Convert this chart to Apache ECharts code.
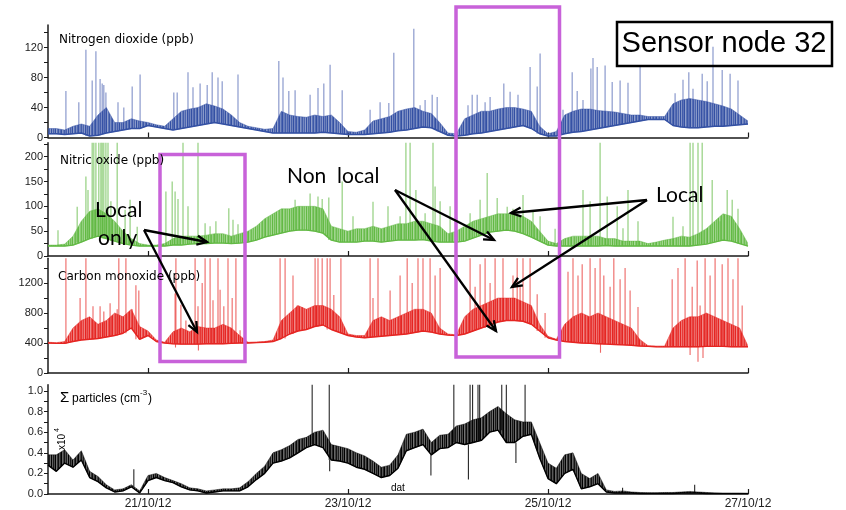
<!DOCTYPE html>
<html><head><meta charset="utf-8">
<script src="https://cdn.jsdelivr.net/npm/echarts@6/dist/echarts.min.js"></script>
<style>html,body{margin:0;padding:0;background:#fff}#c{width:846px;height:510px}</style>
</head><body><div id="c"></div>
<script>
// ---- time sampling (hours from 20/10/12 00:00) ----
const STEP_H = 2;
const dateTickHours = [24, 72, 120, 168];
const dateTickLabels = ['21/10/12', '23/10/12', '25/10/12', '27/10/12'];

// ---- tick labels ----
const no2Labels = [0, 40, 80, 120];
const no2Ticks = [0, 20, 40, 60, 80, 100, 120, 140];
const noLabels = [0, 50, 100, 150, 200];
const noTicks = [0, 25, 50, 75, 100, 125, 150, 175, 200, 225];
const coLabels = [0, 400, 800, 1200];
const coTicks = [0, 200, 400, 600, 800, 1000, 1200, 1400];
const ptLabels = [0, 0.2, 0.4, 0.6, 0.8, 1.0];
const ptTicks = [0, 0.1, 0.2, 0.3, 0.4, 0.5, 0.6, 0.7, 0.8, 0.9, 1.0];

// ---- Nitrogen dioxide (ppb): lower / upper edge of noise band every 2 h ----
const no2Low = [5,5,4,5,6,2,3,6,8,10,12,12, 16,14,12,10,12,14,16,18,20,18,16,14, 12,10,8,6,6,6,6,6,6,7,6,5,
  4,4,4,5,6,7,9,10,12,14,13,8, 3,2,3,5,6,8,10,12,14,16,12,5, 2,2,5,7,8,10,12,14,16,18,20,22,
  24,24,24,16,14,13,13,14,15,15,16,17,18];
const no2High = [12,12,10,15,18,15,30,40,20,20,25,22, 20,17,15,25,35,38,40,45,42,38,30,20, 15,13,11,12,35,30,28,27,30,28,30,20,
  8,7,10,22,25,28,35,38,40,35,32,20, 6,5,25,30,35,35,38,40,40,38,35,15, 5,8,30,35,38,38,36,35,34,32,30,30,
  28,28,28,45,50,52,50,48,45,42,38,30,22];
const no2Spikes = [[4.3,62],[7.4,47],[9.1,117],[10.6,76],[11.5,115],[12.5,78],[13,72],[13.4,70],[13.9,60],[16.8,47],[18.2,40],[20.2,68],[22.1,84],
  [30.2,60],[31,60],[33.6,87],[34.8,67],[36.5,72],[38.2,70],[39.4,87],[40.8,80],[41.8,75],[45.6,84],
  [55.4,102],[56.4,80],[57.8,62],[59.3,63],[62.9,57],[64.8,66],[66.2,72],[67.7,97],[70.6,63],
  [77.3,37],[79.7,47],[81.8,46],[83,113],[87.8,145],[89.3,43],[90.5,50],[92.2,57],[93.4,54],
  [100.8,43],[101.8,57],[103,57],[104.9,47],[106.1,54],[109.4,72],[110.9,61],[112.8,57],[115.7,94],[117.4,68],[118.1,112],
  [123.6,37],[125.8,87],[127,62],[128.4,50],[130.3,92],[130.8,106],[131.8,94],[133.7,96],[135.4,74],[137.3,76],[139.2,73],[142.1,94],
  [150.5,59],[152.4,77],[153.8,87],[154.8,65],[157,85],[158.2,75],[159.6,121],[161.8,90],[163.7,85],[165.6,76]];

// ---- Nitric oxide (ppb) ----
const noLow = [20,20,20,22,28,35,40,35,30,25,22,20, 20,20,20,22,22,24,25,25,26,26,25,26, 28,32,38,42,46,50,52,52,50,46,32,28,
  28,28,30,30,28,30,32,32,32,33,30,28, 28,28,30,36,42,48,50,52,50,45,38,30, 22,20,20,20,20,20,20,21,20,20,20,20,
  20,20,20,20,20,20,22,24,28,32,30,25,20];
const noHigh = [22,22,24,40,70,90,95,85,70,50,35,25, 22,22,25,35,40,40,40,42,45,45,40,45, 50,60,75,85,95,95,100,100,100,95,60,55,
  50,55,55,60,55,60,65,65,70,70,65,60, 45,50,60,70,75,80,85,85,85,80,70,50, 30,25,35,40,40,40,40,35,35,30,30,30,
  25,28,32,35,40,38,45,55,70,85,80,55,25];
const noSpikes = [[2.4,52],[7,99],[9.1,160],[9.6,133],[10.6,240],[11,240],[11.5,240],[12.2,240],[12.7,240],[13,240],[13.4,240],[13.9,240],[14.4,240],[15.1,110],[16.6,240],[18.5,93],[19.7,113],[21.4,59],
  [28.3,130],[29.8,150],[30.5,130],[31.2,115],[32.4,240],[33.6,100],[36,240],[37.7,66],[38.9,60],[40.3,70],[43.4,96],[44.4,73],[45.6,64],
  [59.3,113],[62.9,126],[64.8,120],[65.8,115],[67.4,118],[70.6,150],[73.2,80],[78,109],[81.6,100],[84.5,80],[85.9,240],[86.9,240],[88.3,133],[90.5,86],[92.4,240],[92.9,140],[94.1,110],[96.5,100],
  [101.3,86],[103.7,113],[105.4,167],[107.8,117],[110.2,99],[111.6,95],[114,123],[116.4,90],[118.1,80],[121.7,55],
  [128.4,133],[130.1,110],[132.5,240],[134.2,120],[136.6,100],[138,56],[139.2,133],[141.6,70],
  [150,79],[152.4,60],[154.1,240],[154.8,240],[156,240],[157,240],[159.4,153],[161.3,70],[163,133],[164.2,113],[165.6,95]];

// ---- Carbon monoxide (ppb) ----
const coLow = [400,395,395,420,440,450,460,480,500,530,600,450, 500,420,400,390,385,385,385,390,390,390,395,400, 400,405,410,420,460,520,560,580,620,640,580,540,
  500,480,470,480,490,500,510,520,540,560,545,520, 505,500,520,560,600,640,680,700,700,690,650,560, 470,440,420,410,400,395,390,385,380,375,370,360,
  355,350,348,350,350,350,350,355,355,355,350,350,350];
const coHigh = [410,405,420,600,700,750,650,700,800,750,850,620, 560,440,410,550,600,550,620,600,600,650,600,500, 410,415,420,440,700,800,900,850,900,900,850,750,
  520,500,500,700,750,700,750,800,850,850,800,600, 520,510,750,850,900,950,1000,1000,1000,950,900,650, 490,450,650,750,800,750,800,750,700,650,600,450,
  365,360,360,600,700,750,750,800,750,700,650,600,360];
const coSpikes = [[4.3,1600],[7.7,1000],[9.1,1600],[10.8,890],[12.5,890],[13.4,820],[14.9,930],[16.6,850],[17,1600],[18.7,1600],[20.2,850],[21.1,1170],[21.8,1100],
  [30.5,1060],[30.7,1600],[31.9,910],[33.1,700],[35.3,1600],[36,890],[37,1200],[37.7,1600],[38.9,1600],[39.6,970],[40.8,1600],[41.3,1110],[42.2,890],[43.2,1600],[44.2,1000],[45.1,1600],[46.1,570],
  [55.7,1600],[56.9,1600],[58.8,1300],[59.8,900],[61,880],[64.1,1600],[64.8,1600],[65.8,1600],[67,1600],[67.7,1600],[68.6,1040],[70.3,1600],
  [77.3,1600],[78,1000],[79.2,1600],[82.1,1100],[84.5,1300],[86.2,1600],[87.4,1200],[88.8,1600],[90,1600],[91.7,1600],[92.9,1300],[94.1,1400],
  [101.3,1600],[102.5,1150],[103.7,1450],[104.9,1600],[106.1,1200],[107.3,1600],[109.2,1600],[110.2,1000],[111.6,1300],[112.6,1600],[113.3,1150],[114,1600],[115.7,1600],[117.4,1050],[119.3,800],
  [124.8,1350],[126,1600],[127.2,1300],[128.2,1450],[130.1,1600],[131.3,1400],[132.5,1600],[133.4,1300],[134.9,1150],[135.8,1600],[137.3,1250],[138.5,1400],[139.7,1100],[141.6,880],
  [149.8,1250],[151.2,1400],[152.9,1600],[154.6,1150],[155.8,1500],[156.5,900],[157.7,1600],[158.9,1300],[160.1,1600],[161.8,1450],[163.2,1600],[164.4,1250],[165.6,1600],[166.6,900],
  [30.6,340],[36.1,300],[132.6,270],[154.1,240],[156,150],[157.2,200]];

// ---- Sum of particles (x10^4 cm-3) ----
const ptLow = [.28,.22,.30,.26,.33,.16,.12,.06,.02,.03,.07,.01, .13,.16,.13,.11,.07,.04,.03,.01,.02,.03,.03,.03,
  .07,.14,.20,.30,.32,.35,.40,.45,.48,.45,.33,.32, .30,.26,.24,.20,.16,.18,.25,.42,.45,.48,.38,.44,
  .45,.50,.48,.50,.52,.60,.62,.50,.50,.56,.58,.35, .15,.10,.20,.24,.05,.07,.10,.02,.01,.01,.01,.005,
  .005,.005,.005,.005,.01,.01,.01,.005,.005,.004,.004,.004,.004];
const ptHigh = [.38,.38,.43,.33,.42,.22,.17,.09,.04,.05,.09,.03, .18,.20,.16,.13,.10,.06,.05,.03,.04,.05,.05,.06,
  .12,.20,.27,.40,.43,.47,.53,.55,.60,.62,.48,.46, .44,.40,.37,.32,.26,.28,.38,.58,.60,.63,.50,.57,
  .58,.66,.68,.72,.74,.80,.85,.78,.72,.70,.70,.50, .30,.25,.38,.40,.20,.15,.20,.04,.025,.03,.02,.015,
  .012,.012,.015,.015,.02,.025,.02,.015,.01,.01,.01,.01,.008];
const ptSpikes = [[20.6,.24],[63.4,1.1],[67.5,1.1],[67.6,.22],[91.9,.18],[97.4,1.1],[100.9,.14],[101.3,1.1],[101.9,1.1],[103.2,1.1],[103.6,1.1],[108.9,1.1],[110,1.1],[112.3,.3],[114.5,1.1],[137.9,.06],[155.2,.09]];

// ================= chart =================
const hours = no2Low.map((_, i) => i * STEP_H);
const AX = '#1a1a1a';
const LAB_FONT = 'Liberation Sans';

const grids = [
  {left: 48, top: 25, width: 700, height: 112.5},
  {left: 48, top: 142.75, width: 700, height: 113.25},
  {left: 48, top: 258.25, width: 700, height: 114.75},
  {left: 48, top: 384.8, width: 700, height: 109.5}
];
const yMax = [150, 228, 1530, 1.06];
const yLab = [no2Labels, noLabels, coLabels, ptLabels];
const yTk = [no2Ticks, noTicks, coTicks, ptTicks];

const xAxes = grids.map((g, i) => ({
  type: 'value', gridIndex: i, min: 0, max: 168,
  axisLine: {lineStyle: {color: AX, width: 1.5}},
  axisTick: {inside: true, length: 5, lineStyle: {color: AX, width: 1.2}, customValues: dateTickHours},
  axisLabel: {show: i === 3, customValues: dateTickHours, margin: 4, fontSize: 12, fontFamily: LAB_FONT, color: '#222',
    formatter: v => dateTickLabels[dateTickHours.indexOf(v)] || ''},
  splitLine: {show: false}
}));
const yAxes = grids.map((g, i) => ({
  type: 'value', gridIndex: i, min: 0, max: yMax[i],
  axisLine: {show: true, lineStyle: {color: AX, width: 1.5}},
  axisTick: {show: true, length: 4, lineStyle: {color: AX, width: 1}, customValues: yTk[i]},
  axisLabel: {customValues: yLab[i], margin: 5, fontSize: 11, fontFamily: LAB_FONT, color: '#222',
    formatter: v => i === 3 ? v.toFixed(1) : String(v)},
  splitLine: {show: false}
}));

// dense vertical-stripe texture so the noise band reads as many overlapping traces
const STRIPE_ALPHA = [1, .62, .9, .7, 1, .55, .8, .95, .65, .85, 1, .6, .75, .92, .68, .88, .58];
function stripes(rgb) {
  const c = document.createElement('canvas');
  c.width = STRIPE_ALPHA.length; c.height = 2;
  const ctx = c.getContext('2d');
  STRIPE_ALPHA.forEach((a, i) => { ctx.fillStyle = 'rgba(' + rgb + ',' + a + ')'; ctx.fillRect(i, 0, 1, 2); });
  return {image: c, repeat: 'repeat'};
}

function band(idx, low, high, rgb) {
  const pat = stripes(rgb);
  return {
    type: 'custom', xAxisIndex: idx, yAxisIndex: idx, clip: true, silent: true, z: 2,
    data: [[0, 0]],
    renderItem: (params, api) => {
      const pts = [];
      for (let i = 0; i < low.length; i++) pts.push(api.coord([hours[i], low[i]]));
      for (let i = high.length - 1; i >= 0; i--) pts.push(api.coord([hours[i], high[i]]));
      return {type: 'polygon', shape: {points: pts}, style: {fill: pat, stroke: 'rgba(' + rgb + ',0.45)', lineWidth: 1}};
    }
  };
}
function baseLine(idx, low, color) {
  return {type: 'line', xAxisIndex: idx, yAxisIndex: idx, showSymbol: false, silent: true, z: 3,
    data: low.map((v, i) => [hours[i], v]), lineStyle: {color: color, width: 1.4}};
}
function spikes(idx, data, low, color) {
  return {
    type: 'custom', xAxisIndex: idx, yAxisIndex: idx, clip: true, silent: true, z: 4,
    data: data,
    renderItem: (params, api) => {
      const h = api.value(0), v = api.value(1);
      const k = Math.min(low.length - 1, Math.max(0, Math.round(h / STEP_H)));
      const p0 = api.coord([h, low[k]]), p1 = api.coord([h, v]);
      return {type: 'line', shape: {x1: p0[0], y1: p0[1], x2: p1[0], y2: p1[1]}, style: {stroke: color, lineWidth: 1.1}};
    }
  };
}

const BLUE = '#3350a3', BLUE_RGB = '51,80,163', BLUE_L = 'rgba(60,85,170,0.65)';
const GREEN = '#62b944', GREEN_RGB = '98,185,68', GREEN_L = 'rgba(98,185,68,0.75)';
const RED = '#e52522', RED_RGB = '229,37,34', RED_L = 'rgba(229,37,34,0.7)';
const BLACK = '#000', BLACK_RGB = '0,0,0', BLACK_L = 'rgba(0,0,0,0.85)';

const series = [
  band(0, no2Low, no2High, BLUE_RGB), baseLine(0, no2Low, BLUE), spikes(0, no2Spikes, no2Low, BLUE_L),
  band(1, noLow, noHigh, GREEN_RGB), baseLine(1, noLow, GREEN), spikes(1, noSpikes, noLow, GREEN_L),
  band(2, coLow, coHigh, RED_RGB), baseLine(2, coLow, RED), spikes(2, coSpikes, coLow, RED_L),
  band(3, ptLow, ptHigh, BLACK_RGB), baseLine(3, ptLow, BLACK), spikes(3, ptSpikes, ptLow, BLACK_L)
];

// ---- annotations (pixel placed) ----
const MAG = '#c862d9';
function txt(x, y, text, size, family, extra) {
  return Object.assign({type: 'text', x: x, y: y, z: 100,
    style: {text: text, fontSize: size, fontFamily: family, fill: '#000', verticalAlign: 'middle', align: 'left'}}, extra || {});
}
function arrow(x1, y1, x2, y2) {
  const a = Math.atan2(y2 - y1, x2 - x1), L = 11, w = 0.42;
  const p1 = [x2 - L * Math.cos(a - w), y2 - L * Math.sin(a - w)];
  const p2 = [x2 - L * Math.cos(a + w), y2 - L * Math.sin(a + w)];
  return [
    {type: 'line', z: 100, shape: {x1, y1, x2, y2}, style: {stroke: '#000', lineWidth: 2.3}},
    {type: 'polyline', z: 100, shape: {points: [p1, [x2, y2], p2]}, style: {stroke: '#000', lineWidth: 2.3, fill: null}}
  ];
}
const graphic = [
  txt(59, 40, 'Nitrogen dioxide (ppb)', 12, 'DejaVu Sans'),
  txt(60, 161, 'Nitric oxide (ppb)', 12, 'DejaVu Sans'),
  txt(58, 277, 'Carbon monoxide (ppb)', 12, 'DejaVu Sans'),
  txt(60, 398, 'Σ', 15, LAB_FONT),
  txt(72, 399, 'particles (cm', 12, LAB_FONT),
  txt(140, 393, '-3', 8, LAB_FONT),
  txt(148, 399, ')', 12, LAB_FONT),
  {type: 'text', x: 62, y: 450, rotation: Math.PI / 2, z: 100, style: {text: 'x10', fontSize: 10, fontFamily: LAB_FONT, fill: '#000', verticalAlign: 'middle', align: 'left'}},
  {type: 'text', x: 57, y: 432, rotation: Math.PI / 2, z: 100, style: {text: '4', fontSize: 7, fontFamily: LAB_FONT, fill: '#000', verticalAlign: 'middle', align: 'left'}},
  txt(391, 488, 'dat', 10, LAB_FONT),
  {type: 'rect', z: 100, shape: {x: 617, y: 22, width: 215, height: 44}, style: {fill: null, stroke: '#000', lineWidth: 2.5}},
  {type: 'text', x: 724, y: 44, z: 100, style: {text: 'Sensor node 32', fontSize: 29, fontFamily: LAB_FONT, fill: '#000', verticalAlign: 'middle', align: 'center'}},
  {type: 'rect', z: 99, shape: {x: 160, y: 154.5, width: 85, height: 207}, style: {fill: null, stroke: MAG, lineWidth: 3.5}},
  {type: 'rect', z: 99, shape: {x: 456, y: 7, width: 103.5, height: 350}, style: {fill: null, stroke: MAG, lineWidth: 3.5}},
  txt(95, 210, 'Local', 21, 'Lato'),
  txt(98, 238, 'only', 21, 'Lato'),
  txt(287, 176, 'Non  local', 21, 'Lato'),
  txt(656, 195, 'Local', 21, 'Lato'),
  ...arrow(144, 230, 207, 242),
  ...arrow(144, 230, 197, 332),
  ...arrow(395, 190, 494, 240),
  ...arrow(395, 190, 496, 331),
  ...arrow(647, 200, 511, 213),
  ...arrow(647, 200, 512, 287)
];

const chart = echarts.init(document.getElementById('c'), null, {renderer: 'canvas'});
chart.setOption({
  animation: false,
  backgroundColor: '#fff',
  grid: grids,
  xAxis: xAxes,
  yAxis: yAxes,
  series: series,
  graphic: graphic
});
</script>
</body></html>
